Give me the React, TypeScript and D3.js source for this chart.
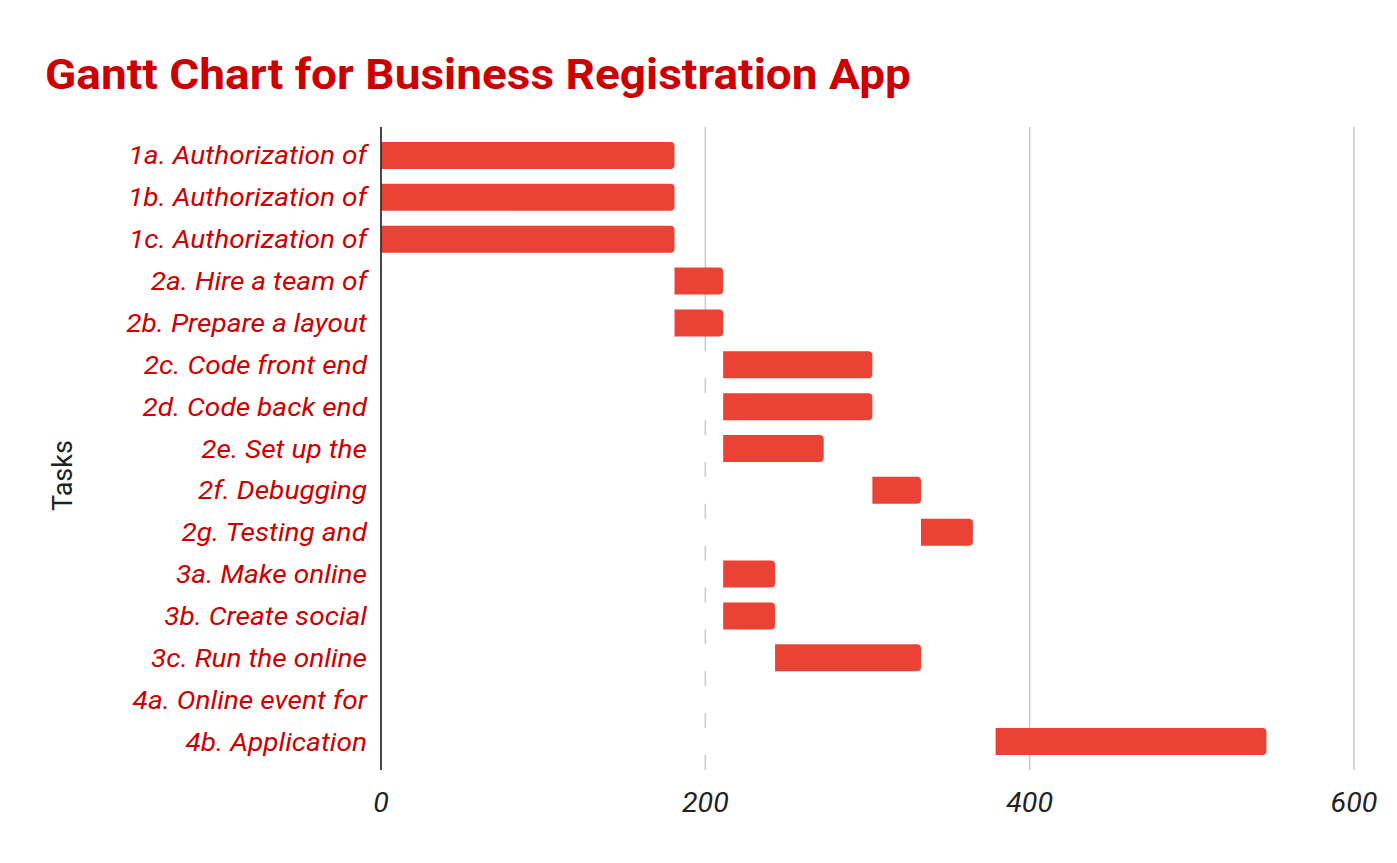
import { useEffect, useRef } from 'react'
import * as d3 from 'd3'

const tasks = [
  '1a. Authorization of', '1b. Authorization of', '1c. Authorization of',
  '2a. Hire a team of', '2b. Prepare a layout', '2c. Code front end', '2d. Code back end',
  '2e. Set up the', '2f. Debugging', '2g. Testing and',
  '3a. Make online', '3b. Create social', '3c. Run the online',
  '4a. Online event for', '4b. Application',
]
// start day and duration (days) per task
const starts    = [0, 0, 0, 181, 181, 211, 211, 211, 303, 333, 211, 211, 243, 365, 379]
const durations = [181, 181, 181, 30, 30, 92, 92, 62, 30, 32, 32, 32, 90, 0, 167]
const xTicks = [0, 200, 400, 600]

const W = 1397, H = 863
const RED = '#cc0000'
const BAR = '#ea4335'

function roundRight(x: number, y: number, w: number, h: number, r: number) {
  const rr = Math.min(r, w / 2, h / 2)
  return `M${x},${y}H${x + w - rr}Q${x + w},${y} ${x + w},${y + rr}V${y + h - rr}Q${x + w},${y + h} ${x + w - rr},${y + h}H${x}Z`
}

export default function App() {
  const svgRef = useRef<SVGSVGElement>(null)

  useEffect(() => {
    if (!svgRef.current) return
    const svg = d3.select(svgRef.current)
    svg.selectAll('*').remove()

    const m = { t: 127, r: 43, b: 93, l: 381 }
    const x = d3.scaleLinear().domain([0, 600]).range([m.l, W - m.r])
    const y = d3.scaleBand<string>().domain(tasks).range([m.t, H - m.b]).paddingInner(0.355).paddingOuter(0.358)

    svg.append('rect').attr('width', W).attr('height', H).attr('fill', '#fff')

    // Title
    svg.append('text').attr('transform', 'translate(45,89) scale(1.095,1)')
      .attr('fill', RED).attr('font-family', 'Roboto').attr('font-weight', 700).attr('font-size', 42)
      .text('Gantt Chart for Business Registration App')

    // Grid
    svg.append('g').selectAll('line').data(xTicks.filter(t => t > 0)).join('line')
      .attr('x1', d => x(d)).attr('x2', d => x(d)).attr('y1', m.t).attr('y2', H - m.b)
      .attr('stroke', '#cccccc').attr('stroke-width', 1.6)

    // invisible offset segments (they cover the grid)
    svg.append('g').selectAll('rect').data(tasks.filter((_, i) => starts[i] > 0)).join('rect')
      .attr('x', x(0) + 1).attr('y', d => y(d)!)
      .attr('width', d => x(starts[tasks.indexOf(d)]) - x(0) - 1).attr('height', y.bandwidth())
      .attr('fill', '#fff')

    // Bars
    svg.append('g').selectAll('path').data(tasks.filter((_, i) => durations[i] > 0)).join('path')
      .attr('d', d => {
        const i = tasks.indexOf(d)
        const x0 = x(starts[i]), x1 = x(starts[i] + durations[i])
        return roundRight(x0, y(d)!, x1 - x0, y.bandwidth(), 4)
      })
      .attr('fill', BAR)

    // Axis line
    svg.append('line').attr('x1', x(0)).attr('x2', x(0)).attr('y1', m.t).attr('y2', H - m.b)
      .attr('stroke', '#333').attr('stroke-width', 1.8)

    // Y labels
    svg.append('g').selectAll('text').data(tasks).join('text')
      .attr('transform', d => `translate(367,${y(d)! + y.bandwidth() / 2 + 9}) scale(1.06,1)`)
      .attr('text-anchor', 'end').attr('fill', RED)
      .attr('font-family', 'Roboto').attr('font-style', 'italic').attr('font-size', 26.5)
      .text(d => d)

    // X tick labels
    svg.append('g').selectAll('text').data(xTicks).join('text')
      .attr('transform', d => `translate(${x(d)},812) scale(1.06,1)`)
      .attr('text-anchor', 'middle').attr('fill', '#222')
      .attr('font-family', 'Roboto').attr('font-style', 'italic').attr('font-size', 27)
      .text(d => d)

    // Y title
    svg.append('text').attr('transform', `translate(72,${(m.t + H - m.b) / 2 + 27}) rotate(-90)`)
      .attr('text-anchor', 'middle').attr('fill', '#222')
      .attr('font-family', 'Roboto').attr('font-size', 27)
      .text('Tasks')
  }, [])

  return (
    <div style={{ position: 'absolute', left: 0, top: 0 }}>
      <svg ref={svgRef} width={W} height={H} style={{ display: 'block' }} />
    </div>
  )
}
